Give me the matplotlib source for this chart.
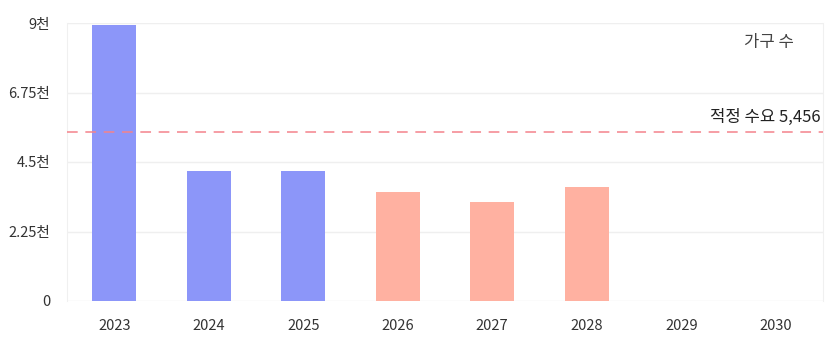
import numpy as np
import matplotlib.pyplot as plt

plt.rcParams['font.family'] = ['Noto Sans CJK KR', 'DejaVu Sans']

years = ['2023', '2024', '2025', '2026', '2027', '2028', '2029', '2030']
households = [8930, 4215, 4215, 3520, 3195, 3700, 0, 0]
is_forecast = [False, False, False, True, True, True, True, True]
demand = 5456
yticks = [0, 2250, 4500, 6750, 9000]
ytick_labels = ['0', '2.25천', '4.5천', '6.75천', '9천']

blue = '#8c96f9'
salmon = '#ffb1a1'
colors = [salmon if f else blue for f in is_forecast]

fig = plt.figure(figsize=(8.26, 3.42), dpi=100)
ax = fig.add_axes([67/826, 1-301/342, (823-67)/826, (301-23)/342])

x = np.arange(len(years))
ax.bar(x, households, width=0.47, color=colors, zorder=2)
ax.axhline(demand, color='#f4838b', linestyle=(0, (7, 5)), linewidth=1.1, zorder=3)

ax.set_xlim(-0.5, len(years)-0.5)
ax.set_ylim(0, 9000)
ax.set_xticks(x)
ax.set_xticklabels(years)
ax.set_yticks(yticks)
ax.set_yticklabels(ytick_labels)
ax.tick_params(axis='both', length=0, labelsize=10.5, labelcolor='#333333')
ax.tick_params(axis='x', pad=13)
ax.tick_params(axis='y', pad=12)
ax.grid(axis='y', color='#efefef', linewidth=1, zorder=0)

for side in ['top', 'bottom']:
    ax.spines[side].set_visible(False)
for side in ['left', 'right']:
    ax.spines[side].set_color('#f0f0f0')

ax.text(0.962, 0.93, '가구 수', transform=ax.transAxes, ha='right', va='center',
        fontsize=12, color='#444444')
ax.text(len(years)-0.52, demand + 220, f'적정 수요 {demand:,}', ha='right', va='bottom',
        fontsize=12, color='#222222')

fig.savefig('out.png', dpi=100)
